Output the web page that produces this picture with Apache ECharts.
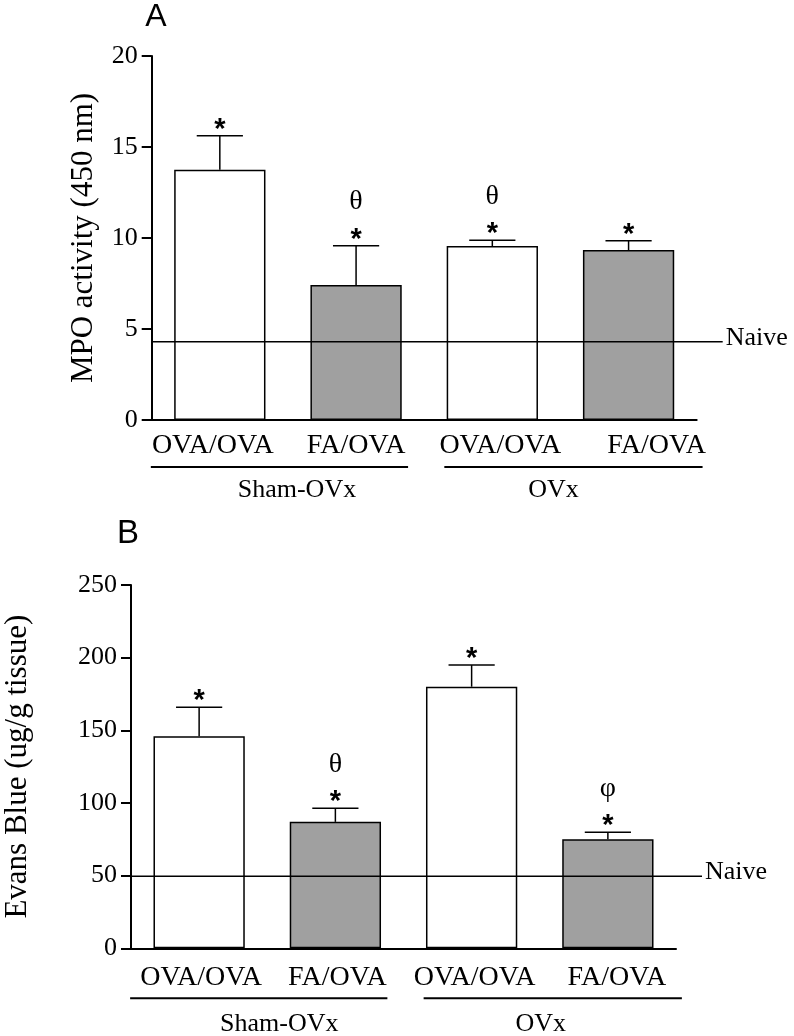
<!DOCTYPE html>
<html><head><meta charset="utf-8">
<script src="https://cdn.jsdelivr.net/npm/echarts@6/dist/echarts.min.js"></script>
<style>html,body{margin:0;padding:0;background:#fff}#c{width:794px;height:1036px}</style>
</head><body><div id="c"></div>
<script>
// ---- data ----
const categories = ['OVA/OVA', 'FA/OVA', 'OVA/OVA', 'FA/OVA'];
const groups = ['Sham-OVx', 'OVx'];
const barColors = ['#ffffff', '#a0a0a0', '#ffffff', '#a0a0a0'];

const mpoMean = [13.75, 7.42, 9.56, 9.34];
const mpoSem = [1.87, 2.16, 0.31, 0.51];
const mpoNaive = 4.3;
const mpoStars = ['*', '*', '*', '*'];
const mpoMarks = ['', 'θ', 'θ', ''];
const mpoTicks = { min: 0, max: 20, interval: 5 };

const evMean = [146, 87, 180, 75];
const evSem = [19.8, 9.4, 14.9, 4.8];
const evNaive = 49.5;
const evStars = ['*', '*', '*', '*'];
const evMarks = ['', 'θ', '', 'φ'];
const evTicks = { min: 0, max: 250, interval: 50 };

const naiveLabel = 'Naive';
const yNames = ['MPO activity (450 nm)', 'Evans Blue (ug/g tissue)'];
const panelLetters = ['A', 'B'];

// ---- styles ----
const SERIF = '"Liberation Serif", "Times New Roman", serif';
const SANS = '"Liberation Sans", Arial, sans-serif';
const labelShiftA = [-7, 0, 8, 28];
const labelShiftB = [2, 2, 3, 9];

function richFor(shifts) {
  const r = {};
  shifts.forEach((s, i) => {
    r['l' + i] = {
      fontSize: 28, fontFamily: SERIF, color: '#000',
      padding: s >= 0 ? [0, 0, 0, 2 * s] : [0, -2 * s, 0, 0]
    };
  });
  return r;
}

function xAxisFor(gi, shifts, margin) {
  return {
    type: 'category', gridIndex: gi, data: categories,
    axisLine: { show: true, lineStyle: { color: '#000', width: 2 } },
    axisTick: { show: false },
    axisLabel: {
      interval: 0, margin: margin,
      formatter: (v, i) => '{l' + i + '|' + v + '}',
      rich: richFor(shifts)
    },
    splitLine: { show: false }
  };
}

function yAxisFor(gi, t, name, gap) {
  return {
    type: 'value', gridIndex: gi, min: t.min, max: t.max, interval: t.interval,
    name: name, nameLocation: 'middle', nameGap: gap,
    nameTextStyle: { fontSize: 31, fontFamily: SERIF, color: '#000' },
    axisLine: { show: true, lineStyle: { color: '#000', width: 2 } },
    axisTick: { show: true, length: 10, lineStyle: { color: '#000', width: 2 } },
    axisLabel: { fontSize: 26, fontFamily: SERIF, color: '#000', margin: 14 },
    splitLine: { show: false }
  };
}

function barSeries(gi, means) {
  return {
    type: 'bar', xAxisIndex: gi, yAxisIndex: gi, barWidth: '67%', z: 2,
    data: means.map((m, i) => ({
      value: m,
      itemStyle: { color: barColors[i], borderColor: '#000', borderWidth: 1.5 }
    })),
    animation: false, silent: true
  };
}

function errSeries(gi, means, sems, stars, marks) {
  return {
    type: 'custom', xAxisIndex: gi, yAxisIndex: gi, z: 5, clip: false,
    animation: false, silent: true,
    data: means.map((m, i) => [i, m, m + sems[i]]),
    renderItem(params, api) {
      const i = api.value(0);
      const base = api.coord([i, api.value(1)]);
      const top = api.coord([i, api.value(2)]);
      const hw = api.size([1, 0])[0] * 0.67 * 0.253;
      const st = { stroke: '#000', lineWidth: 1.5 };
      const ch = [
        { type: 'line', shape: { x1: base[0], y1: base[1], x2: top[0], y2: top[1] }, style: st },
        { type: 'line', shape: { x1: top[0] - hw, y1: top[1], x2: top[0] + hw, y2: top[1] }, style: st }
      ];
      const s = stars[params.dataIndex];
      if (s) ch.push({ type: 'text', style: { text: s, x: top[0], y: top[1] - 6, align: 'center', verticalAlign: 'middle', font: 'bold 29px ' + SANS, fill: '#000' } });
      const mk = marks[params.dataIndex];
      if (mk) ch.push({ type: 'text', style: { text: mk, x: top[0], y: top[1] - 44, align: 'center', verticalAlign: 'middle', font: '28px ' + SERIF, fill: '#000' } });
      return { type: 'group', children: ch };
    }
  };
}

const chart = echarts.init(document.getElementById('c'));
chart.setOption({
  animation: false,
  backgroundColor: '#fff',
  grid: [
    { left: 151.7, top: 56, width: 545, height: 364, containLabel: false, outerBoundsMode: 'none' },
    { left: 131, top: 585, width: 545, height: 363.3, containLabel: false, outerBoundsMode: 'none' }
  ],
  xAxis: [xAxisFor(0, labelShiftA, 12), xAxisFor(1, labelShiftB, 15)],
  yAxis: [yAxisFor(0, mpoTicks, yNames[0], 52), yAxisFor(1, evTicks, yNames[1], 98)],
  series: [
    barSeries(0, mpoMean), errSeries(0, mpoMean, mpoSem, mpoStars, mpoMarks),
    barSeries(1, evMean), errSeries(1, evMean, evSem, evStars, evMarks)
  ]
});

// ---- decorations positioned via the library's scales ----
const panels = [
  { gi: 0, naive: mpoNaive, lineGap: 47, groupGap: 70, grpShift: [9, -7], letter: [156, 17, 32] },
  { gi: 1, naive: evNaive, lineGap: 50, groupGap: 76, grpShift: [12, 1], letter: [128, 534, 33] }
];
const ulLeft = [-69, -48], ulRight = [52, 74];
const gfx = [];
panels.forEach((p, k) => {
  const cx = categories.map((c, i) => chart.convertToPixel({ xAxisIndex: p.gi }, i));
  const band = cx[1] - cx[0];
  const xL = cx[0] - band / 2, xR = cx[3] + band / 2;
  const y0 = chart.convertToPixel({ yAxisIndex: p.gi }, 0);
  const yN = chart.convertToPixel({ yAxisIndex: p.gi }, p.naive);
  gfx.push({ type: 'line', z: 10, shape: { x1: xL, y1: yN, x2: xR + 26, y2: yN }, style: { stroke: '#000', lineWidth: 1.5 } });
  gfx.push({ type: 'text', z: 10, style: { text: naiveLabel, x: xR + 29, y: yN - 4, align: 'left', verticalAlign: 'middle', font: '26px ' + SERIF, fill: '#000' } });
  groups.forEach((g, j) => {
    const a = cx[2 * j], b = cx[2 * j + 1];
    const yl = y0 + p.lineGap;
    gfx.push({ type: 'line', z: 10, shape: { x1: a + ulLeft[j], y1: yl, x2: b + ulRight[j], y2: yl }, style: { stroke: '#000', lineWidth: 2 } });
    gfx.push({ type: 'text', z: 10, style: { text: g, x: (a + b) / 2 + p.grpShift[j], y: y0 + p.groupGap, align: 'center', verticalAlign: 'middle', font: '26px ' + SERIF, fill: '#000' } });
  });
  gfx.push({ type: 'text', z: 10, style: { text: panelLetters[k], x: p.letter[0], y: p.letter[1], align: 'center', verticalAlign: 'middle', font: p.letter[2] + 'px ' + SANS, fill: '#000' } });
});
chart.setOption({ graphic: gfx });
</script>
</body></html>
